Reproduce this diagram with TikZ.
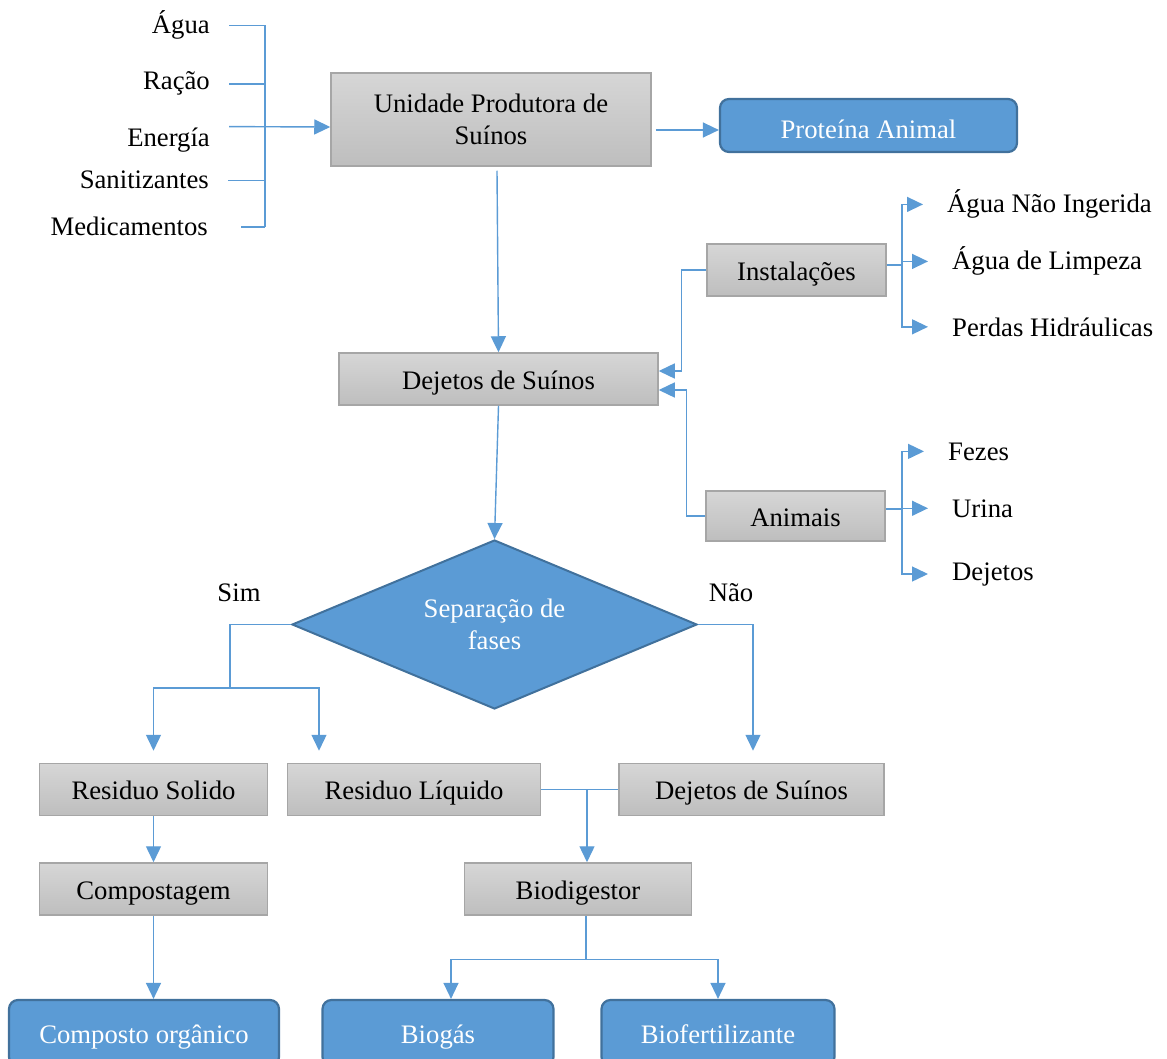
\documentclass[tikz,border=0pt]{standalone}
\usepackage{fontspec}
\setmainfont{Liberation Serif}
\usetikzlibrary{arrows.meta}
\usetikzlibrary{positioning}
\usetikzlibrary{shapes.geometric}

\definecolor{flowblue}{HTML}{5B9BD5}
\definecolor{flowdark}{HTML}{41719C}
\definecolor{boxtop}{HTML}{D6D6D6}
\definecolor{boxbot}{HTML}{BEBEBE}
\definecolor{boxline}{HTML}{A6A6A6}

\tikzset{
  txt/.style={font=\fontsize{26.7}{32}\selectfont, inner sep=0pt},
  oneline/.style={text height=20pt, text depth=0pt},
  proc/.style={txt, draw=boxline, line width=1.5pt, top color=boxtop, bottom color=boxbot, align=center},
  result/.style={txt, oneline, draw=flowdark, line width=2.2pt, fill=flowblue, rounded corners=9pt, text=white},
  decide/.style={txt, diamond, aspect=2.4, draw=flowdark, line width=2pt, fill=flowblue, text=white, align=center},
  wire/.style={flowblue, line width=1.4pt},
  flowarrow/.style={wire, -{Triangle[length=16pt,width=15pt]}},
}

\begin{document}
\begin{tikzpicture}[x=1pt,y=-1pt]
\useasboundingbox (0,0) rectangle (1167,1059);

% entradas
\node[txt,anchor=base east] (agua) at (210,34) {Água};
\node[txt,anchor=base east] (racao) at (210,90) {Ração};
\node[txt,anchor=base east] (energia) at (210,147) {Energía};
\node[txt,anchor=base east] (sanit) at (209,189) {Sanitizantes};
\node[txt,anchor=base east] (medic) at (208,236) {Medicamentos};
\coordinate (spine) at (265,0);

\node[proc,minimum width=320pt,minimum height=93pt] (upsu) at (491,119.5) {Unidade Produtora de\\Suínos};
\node[result,text height=27pt,minimum width=297pt,minimum height=53pt] (prot) at (868.5,125.5) {Proteína Animal};

\draw[wire] (agua.east -| spine) -- (medic.east -| spine);
\foreach \n in {agua,racao,sanit}
  \draw[wire] ([xshift=19pt]\n.east) -- (\n.east -| spine);
\draw[wire] ([xshift=33pt]medic.east) -- (medic.east -| spine);
\draw[flowarrow] ([xshift=19pt,yshift=14pt]energia.east) -- ([yshift=-7.5pt]upsu.west);
\draw[flowarrow] ([xshift=4pt,yshift=-4.5pt]prot.west -| upsu.east) -- ([yshift=-4.5pt]prot.west);

% dejetos
\node[proc,oneline,minimum width=319pt,minimum height=52pt] (dej) at (498.5,379) {Dejetos de Suínos};
\draw[flowarrow] ([xshift=6pt,yshift=-4pt]upsu.south) -- (dej.north);

\node[proc,oneline,minimum width=179pt,minimum height=52pt] (inst) at (796.5,270) {Instalações};
\node[proc,oneline,minimum width=179pt,minimum height=50pt] (anim) at (795.5,516) {Animais};

\node[txt,anchor=base west] (agni) at (947,213) {Água Não Ingerida};
\node[txt,anchor=base west] (agl) at (952,270) {Água de Limpeza};
\node[txt,anchor=base west] (perd) at (952,336) {Perdas Hidráulicas};
\node[txt,anchor=base west] (fez) at (948,460) {Fezes};
\node[txt,anchor=base west] (uri) at (952,517) {Urina};
\node[txt,anchor=base west] (dejt) at (952,580) {Dejetos};

\draw[flowarrow] (inst.west) -- ++(-25,0) |- ([yshift=8pt]dej.east);
\draw[flowarrow] (anim.west) -- ++(-19,0) |- ([yshift=-11pt]dej.east);

\coordinate (ibus) at (902,265);
\draw[wire] (inst.east |- ibus) -- (ibus);
\foreach \t in {agni,agl,perd}
  \draw[flowarrow] (ibus) |- ([xshift=-24pt]\t.west);
\coordinate (abus) at (902,509);
\draw[wire] (anim.east |- abus) -- (abus);
\foreach \t in {fez,uri,dejt}
  \draw[flowarrow] (abus) |- ([xshift=-24pt]\t.west);

% separacao
\node[decide,minimum width=405pt,minimum height=169pt] (sep) at (494.5,624.5) {Separação de\\fases};
\draw[flowarrow] (dej.south) -- (sep.north);
\node[txt] (sim) at (239,593) {Sim};
\node[txt] (nao) at (731,593) {Não};

\node[proc,oneline,minimum width=228pt,minimum height=52pt] (rsol) at (153.5,789.5) {Residuo Solido};
\node[proc,oneline,minimum width=253pt,minimum height=52pt] (rliq) at (414,789.5) {Residuo Líquido};
\node[proc,oneline,minimum width=265pt,minimum height=52pt] (dej2) at (751.5,789.5) {Dejetos de Suínos};

\coordinate (sbus) at (230,688);
\draw[wire] (sep.west) -| (sbus);
\draw[flowarrow] (sbus) -| ([yshift=12pt]rsol.north);
\draw[flowarrow] (sbus) -| ([xshift=-95pt,yshift=12pt]rliq.north);
\draw[flowarrow] (sep.east) -| ([xshift=1.5pt,yshift=12pt]dej2.north);

% tratamento
\node[proc,oneline,minimum width=228pt,minimum height=52pt] (comp) at (153.5,889) {Compostagem};
\node[proc,oneline,minimum width=227pt,minimum height=52pt] (bio) at (578,889) {Biodigestor};

\draw[wire] (rliq.east) -- (dej2.west);
\coordinate (join) at (587,789.5);
\draw[flowarrow] (join) -- (join |- bio.north);
\draw[flowarrow] (rsol.south) -- (comp.north);

\node[result,minimum width=270pt,minimum height=66pt] (corg) at (144,1033) {Composto orgânico};
\node[result,minimum width=231pt,minimum height=66pt] (biog) at (438,1033) {Biogás};
\node[result,minimum width=233pt,minimum height=66pt] (biof) at (718,1033) {Biofertilizante};

\draw[flowarrow] (comp.south) -- (comp.south |- corg.north);
\draw[wire] ([xshift=8pt]bio.south) -- ++(0,44) coordinate (bbus);
\draw[flowarrow] (bbus) -| ([xshift=13pt]biog.north);
\draw[flowarrow] (bbus) -| (biof.north);

\end{tikzpicture}
\end{document}
